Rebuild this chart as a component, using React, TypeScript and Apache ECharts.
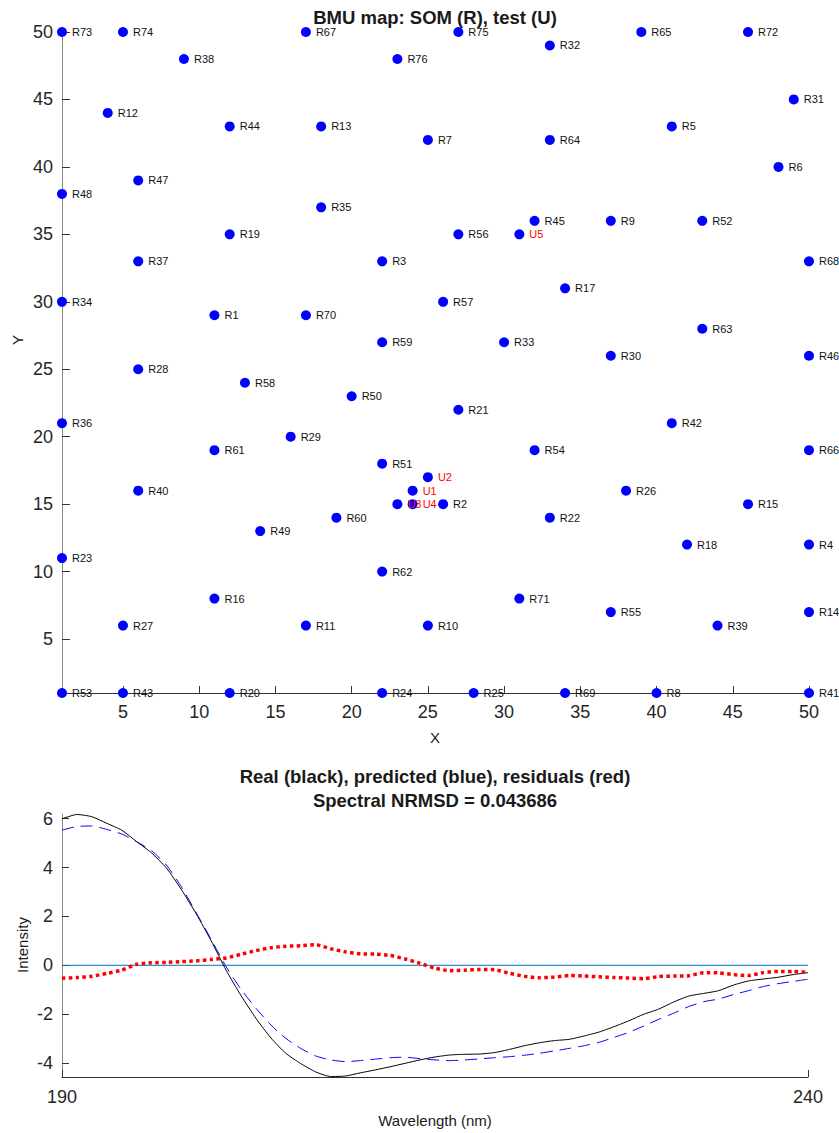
import React, { useEffect, useRef } from "react";
import * as echarts from "echarts";

// ---- BMU map data ----
const rNames = ["R1","R2","R3","R4","R5","R6","R7","R8","R9","R10","R11","R12","R13","R14","R15","R16","R17","R18","R19","R20","R21","R22","R23","R24","R25","R26","R27","R28","R29","R30","R31","R32","R33","R34","R35","R36","R37","R38","R39","R40","R41","R42","R43","R44","R45","R46","R47","R48","R49","R50","R51","R52","R53","R54","R55","R56","R57","R58","R59","R60","R61","R62","R63","R64","R65","R66","R67","R68","R69","R70","R71","R72","R73","R74","R75","R76"];
const rX = [11,26,22,50,41,48,25,40,37,25,17,4,18,50,46,11,34,42,12,12,27,33,1,22,28,38,5,6,16,37,49,33,30,1,18,1,6,9,44,6,50,41,5,12,32,50,6,1,14,20,22,43,1,32,37,27,26,13,22,19,11,22,43,33,39,50,17,50,34,17,31,46,1,5,27,23];
const rY = [29,15,33,12,43,40,42,1,36,6,6,44,43,7,15,8,31,12,35,1,22,14,11,1,1,16,6,25,20,26,45,49,27,30,37,21,33,48,6,16,1,21,1,43,36,26,39,38,13,23,18,36,1,19,7,35,30,24,27,14,19,10,28,42,50,19,50,33,1,29,8,50,50,50,50,48];
const uNames = ["U1","U2","U3","U4","U5"];
const uX = [24,25,23,24,31];
const uY = [16,17,15,15,35];
const mapTicks = [5,10,15,20,25,30,35,40,45,50];

// ---- Spectrum data ----
const wavelength = [190,191,192,193,194,195,196,197,198,199,200,201,202,203,204,205,206,207,208,209,210,211,212,213,214,215,216,217,218,219,220,221,222,223,224,225,226,227,228,229,230,231,232,233,234,235,236,237,238,239,240];
const realSpec = [5.99,6.17,6.08,5.81,5.53,5.06,4.6,3.98,3.1,2.1,1.0,-0.2,-1.24,-2.17,-2.97,-3.6,-4.02,-4.36,-4.55,-4.53,-4.4,-4.28,-4.15,-4.01,-3.87,-3.75,-3.67,-3.64,-3.63,-3.57,-3.44,-3.29,-3.17,-3.08,-3.03,-2.89,-2.73,-2.51,-2.27,-2.0,-1.79,-1.5,-1.26,-1.15,-1.04,-0.81,-0.64,-0.56,-0.49,-0.38,-0.3];
const predSpec = [5.53,5.68,5.7,5.56,5.37,5.06,4.69,4.1,3.21,2.15,1.06,-0.06,-0.98,-1.76,-2.44,-2.99,-3.4,-3.71,-3.87,-3.94,-3.9,-3.84,-3.78,-3.76,-3.82,-3.87,-3.9,-3.87,-3.83,-3.78,-3.74,-3.68,-3.6,-3.5,-3.4,-3.29,-3.15,-2.95,-2.74,-2.48,-2.21,-1.96,-1.69,-1.49,-1.38,-1.2,-1.04,-0.87,-0.75,-0.66,-0.57];
const residSpec = [-0.53,-0.5,-0.45,-0.33,-0.2,0.04,0.1,0.12,0.15,0.18,0.24,0.3,0.45,0.6,0.72,0.78,0.8,0.84,0.68,0.55,0.47,0.46,0.4,0.26,0.08,-0.12,-0.22,-0.2,-0.17,-0.18,-0.33,-0.45,-0.51,-0.48,-0.42,-0.44,-0.47,-0.5,-0.52,-0.55,-0.46,-0.44,-0.43,-0.3,-0.31,-0.38,-0.42,-0.3,-0.25,-0.25,-0.3];
const specYTicks = [-4,-2,0,2,4,6];
const specXTicks = [190,240];

const FONT = "'Liberation Sans', Arial, Helvetica, sans-serif";

function txt(text: string, x: number, y: number, size: number, bold = false, rot = 0) {
  return {
    type: "text",
    x,
    y,
    rotation: rot,
    style: {
      text,
      fill: "#1a1a1a",
      fontSize: size,
      fontWeight: bold ? "bold" : "normal",
      fontFamily: FONT,
      align: "center",
      verticalAlign: "middle",
      textAlign: "center",
      textVerticalAlign: "middle",
    },
  };
}

export default function App() {
  const ref = useRef<HTMLDivElement>(null);
  useEffect(() => {
    document.body.style.margin = "0";
    if (!ref.current) return;
    const chart = echarts.init(ref.current, undefined, { renderer: "svg" });

    const rData = rNames.map((n, i) => ({ name: n, value: [rX[i], rY[i]] }));
    const uData = uNames.map((n, i) => ({ name: n, value: [uX[i], uY[i]] }));
    const pair = (arr: number[]) => wavelength.map((w, i) => [w, arr[i]]);

    const axisCommon = (color: string) => ({
      axisLine: { show: true, onZero: false, lineStyle: { color, width: 1 } },
      splitLine: { show: false },
    });

    chart.setOption({
      animation: false,
      textStyle: { fontFamily: FONT },
      grid: [
        { left: 62, right: 30, top: 32, bottom: 440 },
        { left: 62, right: 31, top: 814, bottom: 56 },
      ],
      xAxis: [
        {
          gridIndex: 0, type: "value", min: 1, max: 50,
          ...axisCommon("#333333"),
          axisTick: { show: true, inside: true, length: 7, customValues: mapTicks, lineStyle: { color: "#333333" } },
          axisLabel: { customValues: mapTicks, fontSize: 18, color: "#262626", margin: 10, fontFamily: FONT },
        },
        {
          gridIndex: 1, type: "value", min: 190, max: 240,
          ...axisCommon("#333333"),
          axisTick: { show: true, inside: true, length: 7, customValues: specXTicks, lineStyle: { color: "#333333" } },
          axisLabel: { customValues: specXTicks, fontSize: 18, color: "#262626", margin: 11, fontFamily: FONT },
        },
      ],
      yAxis: [
        {
          gridIndex: 0, type: "value", min: 1, max: 50,
          ...axisCommon("#8a8a8a"),
          axisTick: { show: true, inside: true, length: 8, customValues: mapTicks, lineStyle: { color: "#333333" } },
          axisLabel: { customValues: mapTicks, fontSize: 18, color: "#262626", margin: 9, fontFamily: FONT },
        },
        {
          gridIndex: 1, type: "value", min: -4.57, max: 6.19,
          ...axisCommon("#8a8a8a"),
          axisTick: { show: true, inside: true, length: 7, customValues: specYTicks, lineStyle: { color: "#333333" } },
          axisLabel: { customValues: specYTicks, fontSize: 18, color: "#262626", margin: 9, fontFamily: FONT },
        },
      ],
      graphic: [
        txt("BMU map: SOM (R), test (U)", 435, 17, 18.5, true),
        txt("X", 435, 737, 15),
        txt("Y", 17, 340, 15, false, Math.PI / 2),
        txt("Real (black), predicted (blue), residuals (red)", 435, 776, 18.5, true),
        txt("Spectral NRMSD = 0.043686", 435, 800, 18.5, true),
        txt("Wavelength (nm)", 435, 1120, 15),
        txt("Intensity", 22, 945, 15, false, Math.PI / 2),
      ],
      series: [
        {
          type: "scatter", xAxisIndex: 0, yAxisIndex: 0, data: rData,
          symbol: "circle", symbolSize: 10, clip: false,
          itemStyle: { color: "#0000ff", opacity: 1 },
          label: { show: true, position: "right", distance: 5, formatter: "{b}", fontSize: 11, color: "#111111", fontFamily: FONT },
        },
        {
          type: "scatter", xAxisIndex: 0, yAxisIndex: 0, data: uData,
          symbol: "circle", symbolSize: 10, clip: false,
          itemStyle: { color: "#0000ff", opacity: 1 },
          label: { show: true, position: "right", distance: 5, formatter: "{b}", fontSize: 11, color: "#ff0000", fontFamily: FONT },
        },
        {
          type: "line", xAxisIndex: 1, yAxisIndex: 1, data: [[190, 0], [240, 0]],
          symbol: "none", lineStyle: { color: "#0072BD", width: 1 }, silent: true,
        },
        {
          type: "line", xAxisIndex: 1, yAxisIndex: 1, data: pair(realSpec),
          symbol: "none", smooth: 0.2, lineStyle: { color: "#000000", width: 1 },
        },
        {
          type: "line", xAxisIndex: 1, yAxisIndex: 1, data: pair(predSpec),
          symbol: "none", smooth: 0.2, lineStyle: { color: "#0000ff", width: 1, type: [12, 7] },
        },
        {
          type: "line", xAxisIndex: 1, yAxisIndex: 1, data: pair(residSpec),
          symbol: "none", smooth: 0.2, lineStyle: { color: "#ff0000", width: 3.5, type: [3.5, 3.3], cap: "butt" },
        },
      ],
    });
    return () => chart.dispose();
  }, []);
  return <div ref={ref} style={{ width: 839, height: 1133 }} />;
}
